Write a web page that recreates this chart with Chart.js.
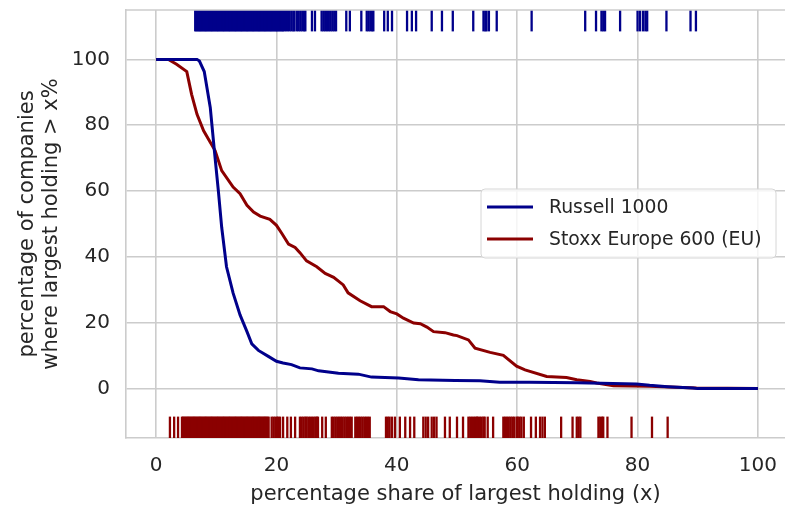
<!DOCTYPE html>
<html>
<head>
<meta charset="utf-8">
<script src="https://cdn.jsdelivr.net/npm/chart.js@4.4.0/dist/chart.umd.min.js"></script>
<style>
  html, body { margin: 0; padding: 0; background: #fff; }
  #wrap { width: 785px; height: 512px; }
</style>
</head>
<body>
<div id="wrap"><canvas id="myChart" width="785" height="512"></canvas></div>
<script>
// share of largest holding (x) vs percentage of companies above x
const russellX = [0, 6.8, 7.2, 8.0, 9.0, 9.7, 10.35, 10.9, 11.7, 12.8, 13.95, 15.1, 15.9, 17.0, 18.65, 20.0, 21.1, 22.5, 23.9, 25.9, 27.0, 30.3, 33.6, 35.8, 40.3, 43.6, 49.7, 53.8, 57.1, 62, 70, 79.8, 82, 85, 89.2, 90, 100];
const russellY = [100, 100, 99.5, 96.3, 85.4, 72.0, 60, 49, 37, 29, 22.4, 17.3, 13.6, 11.6, 9.8, 8.3, 7.8, 7.3, 6.3, 6.0, 5.4, 4.7, 4.4, 3.5, 3.2, 2.7, 2.5, 2.4, 1.9, 1.9, 1.8, 1.4, 1.0, 0.6, 0.2, 0, 0];

const stoxxX = [0, 2.05, 3.4, 5.1, 5.9, 6.8, 7.9, 9.0, 9.8, 10.9, 12.8, 13.95, 15.1, 16.2, 17.3, 18.9, 20.0, 20.9, 22.0, 23.1, 23.9, 25.0, 26.7, 28.1, 29.5, 31.1, 31.9, 33.9, 35.8, 37.8, 38.9, 40.0, 41.1, 42.8, 43.9, 45.0, 46.1, 48.0, 49.4, 50.0, 51.9, 53.0, 55.5, 57.7, 59.9, 61.3, 64.9, 68.2, 69.9, 72.1, 73.2, 76, 82, 89.8, 100];
const stoxxY = [100, 100, 98.5, 96.3, 89.4, 83.3, 78.3, 74.8, 72.3, 66.2, 61.2, 59.2, 55.7, 53.6, 52.4, 51.4, 49.6, 47.1, 43.9, 42.9, 41.3, 38.8, 37.0, 35.0, 33.8, 31.5, 29.1, 26.7, 24.9, 24.9, 23.4, 22.7, 21.4, 19.9, 19.7, 18.7, 17.3, 17.0, 16.3, 16.1, 14.8, 12.3, 11.0, 10.1, 6.8, 5.7, 3.7, 3.4, 2.7, 2.2, 1.7, 0.9, 0.7, 0.2, 0];

// individual companies (rug marks)
const russellRug = [
  6.5, 6.7, 6.9, 7.1, 7.3, 7.5, 7.7, 7.9, 8.1, 8.3, 8.5, 8.7, 8.9, 9.1, 9.3, 9.5, 9.7, 9.9,
  10.1, 10.3, 10.5, 10.7, 10.9, 11.1, 11.3, 11.5, 11.7, 11.9, 12.1, 12.3, 12.5, 12.7, 12.9,
  13.1, 13.3, 13.5, 13.7, 13.9, 14.1, 14.3, 14.5, 14.7, 14.9, 15.1, 15.3, 15.5, 15.7, 15.9,
  16.1, 16.3, 16.5, 16.7, 16.9, 17.1, 17.3, 17.5, 17.7, 17.9, 18.1, 18.3, 18.5, 18.7, 18.9,
  19.1, 19.3, 19.5, 19.7, 19.9, 20.1, 20.3, 20.5, 20.7, 20.9, 21.1, 21.3,
  21.6, 21.9, 22.2, 22.5, 22.8, 23.0, 23.4, 23.7, 24.0, 24.3, 24.6, 24.8, 25.9, 26.4,
  27.5, 27.8, 28.1, 28.4, 28.7, 29.0, 29.3, 29.6, 29.9, 31.6, 32.2, 34.1,
  35.0, 35.3, 35.6, 35.9, 36.1, 37.9, 38.5, 39.2, 41.7, 42.5, 43.2, 45.8, 47.5, 49.3,
  52.7, 54.4, 54.7, 54.9, 55.3, 56.6, 62.4, 71.3, 73.1, 74.0, 74.3, 74.6, 77.1,
  80.0, 80.4, 80.9, 81.3, 81.6, 84.8, 88.8, 89.7
];
const stoxxRug = [
  2.3, 3.0, 3.65,
  4.3, 4.5, 4.7, 4.9, 5.1, 5.3, 5.5, 5.7, 5.9, 6.1, 6.3, 6.5, 6.7, 6.9, 7.1, 7.3, 7.5, 7.7, 7.9,
  8.1, 8.3, 8.5, 8.7, 8.9, 9.1, 9.3, 9.5, 9.7, 9.9, 10.1, 10.3, 10.5, 10.7, 10.9, 11.1, 11.3,
  11.5, 11.7, 11.9, 12.1, 12.3, 12.5, 12.7, 12.9, 13.1, 13.3, 13.5, 13.7, 13.9, 14.1, 14.3,
  14.5, 14.7, 14.9, 15.1, 15.3, 15.5, 15.7, 15.9, 16.1, 16.3, 16.5, 16.7, 16.9, 17.1, 17.3,
  17.5, 17.7, 17.9, 18.1, 18.3, 18.5, 18.7,
  19.2, 19.5, 19.8, 20.1, 20.3, 20.6, 21.1, 21.8, 22.4, 23.1, 23.9, 24.2, 24.5, 24.8, 25.0,
  25.3, 25.6, 25.9, 26.2, 26.5, 26.7, 26.9, 27.6, 28.2,
  29.2, 29.5, 29.8, 30.1, 30.4, 30.7, 31.0, 31.3, 31.6, 31.9, 32.2, 32.5,
  33.1, 33.4, 33.7, 34.0, 34.3, 34.6, 34.9, 35.2, 35.5, 38.2, 38.5, 38.8, 39.2,
  39.7, 40.5, 41.4, 42.2, 42.9, 44.4, 44.8, 45.2, 45.8, 46.2, 46.6, 48.0, 48.8, 50.0, 51.0,
  51.9, 52.2, 52.5, 52.8, 53.1, 53.3, 53.5, 53.8, 54.1, 54.4, 54.6, 55.1, 56.0,
  57.7, 58.0, 58.3, 58.6, 58.9, 59.2, 59.5, 59.9, 60.1, 60.4, 60.7, 61.1, 62.3, 63.1,
  63.8, 64.2, 64.6, 67.3, 69.2, 69.9, 70.2, 70.5, 73.5, 73.8, 74.1, 74.3, 75.0, 79.0, 82.4, 85.0
];

const seriesNames = ['Russell 1000', 'Stoxx Europe 600 (EU)'];
const seriesColors = ['#00008b', '#8b0000'];
const xTitle = 'percentage share of largest holding (x)';
const yTitle = ['percentage of companies', 'where largest holding > x%'];

const rugTopY = 111.75;
const rugBottomY = -11.75;
const gridColor = '#cccccc';
const textColor = '#262626';

function pts(xs, ys) {
  return xs.map((x, i) => ({x: x, y: ys[i]}));
}
function rugPts(xs, y) {
  return xs.map(x => ({x: x, y: y}));
}

// legend + top spine
const extras = {
  id: 'extras',
  afterDraw(chart) {
    const ctx = chart.ctx;
    const a = chart.chartArea;
    ctx.save();
    ctx.strokeStyle = gridColor;
    ctx.lineWidth = 1.6;
    ctx.beginPath();
    ctx.moveTo(a.left, a.top);
    ctx.lineTo(a.right, a.top);
    ctx.stroke();

    // legend box
    const bx = 481, by = 189, bw = 295, bh = 69, r = 4;
    ctx.beginPath();
    ctx.moveTo(bx + r, by);
    ctx.arcTo(bx + bw, by, bx + bw, by + bh, r);
    ctx.arcTo(bx + bw, by + bh, bx, by + bh, r);
    ctx.arcTo(bx, by + bh, bx, by, r);
    ctx.arcTo(bx, by, bx + bw, by, r);
    ctx.closePath();
    ctx.fillStyle = 'rgba(255,255,255,0.8)';
    ctx.fill();
    ctx.strokeStyle = '#d6d6d6';
    ctx.lineWidth = 1;
    ctx.stroke();

    ctx.font = '18.8px "DejaVu Sans"';
    ctx.textBaseline = 'middle';
    ctx.textAlign = 'left';
    const rows = [207, 239];
    seriesNames.forEach((name, i) => {
      ctx.strokeStyle = seriesColors[i];
      ctx.lineWidth = 3;
      ctx.beginPath();
      ctx.moveTo(487, rows[i]);
      ctx.lineTo(533, rows[i]);
      ctx.stroke();
      ctx.fillStyle = textColor;
      ctx.fillText(name, 549, rows[i] + 1);
    });
    ctx.restore();
  }
};

Chart.defaults.font.family = '"DejaVu Sans", sans-serif';
Chart.defaults.color = textColor;

function rugSet(label, values, y, color) {
  return {
    label: label,
    data: rugPts(values, y),
    showLine: false,
    pointStyle: 'line',
    pointRotation: 90,
    pointRadius: 10.7,
    pointBorderWidth: 2.3,
    pointBorderColor: color,
    pointBackgroundColor: color,
    borderColor: color
  };
}

const config = {
  type: 'scatter',
  data: {
    datasets: [
      {
        label: seriesNames[0],
        data: pts(russellX, russellY),
        showLine: true,
        borderColor: seriesColors[0],
        borderWidth: 3,
        pointRadius: 0,
        tension: 0
      },
      {
        label: seriesNames[1],
        data: pts(stoxxX, stoxxY),
        showLine: true,
        borderColor: seriesColors[1],
        borderWidth: 3,
        pointRadius: 0,
        tension: 0
      },
      rugSet('rug1', russellRug, rugTopY, seriesColors[0]),
      rugSet('rug2', stoxxRug, rugBottomY, seriesColors[1])
    ]
  },
  options: {
    animation: false,
    responsive: false,
    layout: { autoPadding: false, padding: { top: 10, right: 0, left: 0, bottom: 0 } },
    plugins: {
      legend: { display: false },
      tooltip: { enabled: false }
    },
    scales: {
      x: {
        type: 'linear',
        min: -5,
        max: 104.5,
        afterFit(scale) { scale.height = 74; scale.paddingRight = 0; scale.paddingLeft = 0; },
        grid: { color: gridColor, lineWidth: 1.6, drawTicks: false },
        border: { color: gridColor, width: 1.6 },
        ticks: { stepSize: 20, includeBounds: false, padding: 16, font: { size: 20 }, color: textColor },
        title: { display: true, text: xTitle, font: { size: 21, lineHeight: 1.15 }, padding: { top: 0, bottom: 5 }, color: textColor }
      },
      y: {
        type: 'linear',
        min: -15,
        max: 115,
        afterFit(scale) { scale.width = 126; scale.paddingTop = 0; scale.paddingBottom = 0; },
        grid: { color: gridColor, lineWidth: 1.6, drawTicks: false },
        border: { color: gridColor, width: 1.6 },
        ticks: { stepSize: 20, includeBounds: false, padding: 16, font: { size: 20 }, color: textColor },
        title: { display: true, text: yTitle, font: { size: 21, lineHeight: 1.15 }, padding: { top: 15, bottom: 0 }, color: textColor }
      }
    }
  },
  plugins: [extras]
};

let myChart = new Chart(document.getElementById('myChart'), config);
</script>
</body>
</html>
